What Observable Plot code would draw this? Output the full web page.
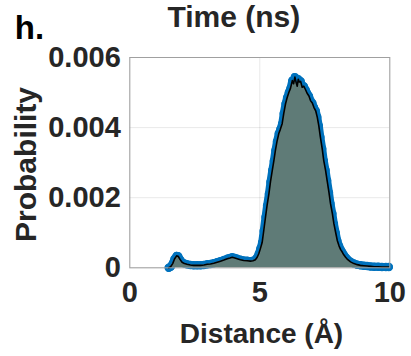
<!DOCTYPE html>
<html>
<head>
<meta charset="utf-8">
<script src="https://cdn.jsdelivr.net/npm/d3@7"></script>
<script src="https://cdn.jsdelivr.net/npm/@observablehq/plot@0.6"></script>
<style>
  html, body { margin: 0; padding: 0; background: #fff; }
  #chart svg { display: block; }
</style>
</head>
<body>
<div id="chart"></div>
<script>
// Distance (Å)
const distance = [
  1.50, 1.57, 1.65, 1.72, 1.80, 1.86, 1.93, 2.01, 2.10, 2.20,
  2.33, 2.46, 2.59, 2.72, 2.85, 2.98, 3.10, 3.23, 3.36, 3.49,
  3.62, 3.75, 3.85, 3.94, 4.04, 4.13, 4.25, 4.38, 4.51, 4.64,
  4.74, 4.83, 4.90, 4.96, 5.02, 5.09, 5.15, 5.22, 5.28, 5.35,
  5.41, 5.48, 5.54, 5.60, 5.66, 5.73, 5.79, 5.86, 5.92, 5.99,
  6.05, 6.12, 6.18, 6.25, 6.30, 6.35, 6.40, 6.44, 6.48, 6.52,
  6.57, 6.63, 6.69, 6.76, 6.82, 6.89, 6.95, 7.02, 7.08, 7.15,
  7.21, 7.27, 7.33, 7.40, 7.46, 7.53, 7.59, 7.66, 7.72, 7.79,
  7.85, 7.92, 7.98, 8.05, 8.11, 8.17, 8.23, 8.30, 8.36, 8.49,
  8.62, 8.75, 8.87, 9.00, 9.13, 9.26, 9.40, 9.55, 9.70, 9.85,
  9.96
];
// Probability
const probability = [
  0.00000, 0.00003, 0.00012, 0.00025, 0.00034, 0.00033, 0.00024, 0.00016, 0.00012, 0.00010,
  0.00008, 0.00007, 0.00007, 0.00007, 0.00008, 0.00010, 0.00011, 0.00013, 0.00016, 0.00019,
  0.00022, 0.00026, 0.00028, 0.00030, 0.00028, 0.00026, 0.00023, 0.00021, 0.00020, 0.00019,
  0.00020, 0.00023, 0.00030, 0.00040, 0.00054, 0.00072, 0.00105, 0.00145, 0.00178, 0.00211,
  0.00245, 0.00278, 0.00305, 0.00335, 0.00360, 0.00383, 0.00395, 0.00411, 0.00440, 0.00468,
  0.00485, 0.00501, 0.00512, 0.00534, 0.00525, 0.00544, 0.00528, 0.00518, 0.00538, 0.00530,
  0.00532, 0.00515, 0.00518, 0.00508, 0.00498, 0.00490, 0.00477, 0.00470, 0.00458, 0.00448,
  0.00430, 0.00405, 0.00373, 0.00340, 0.00306, 0.00278, 0.00249, 0.00215, 0.00183, 0.00155,
  0.00126, 0.00100, 0.00078, 0.00062, 0.00052, 0.00045, 0.00037, 0.00030, 0.00025, 0.00017,
  0.00012, 0.00009, 0.00007, 0.00006, 0.00005, 0.00004, 0.00003, 0.00003, 0.00002, 0.00002,
  0.00002
];
const xTicks = [0, 5, 10];
const yTicks = [0, 0.002, 0.004, 0.006];
const yTickLabels = ["0", "0.002", "0.004", "0.006"];
const panelLabel = "h.";
const topTitle = "Time (ns)";
const xLabel = "Distance (Å)";
const yLabel = "Probability";

const data = distance.map((d, i) => ({distance: d, probability: probability[i]}));

const font = "'Liberation Sans', Arial, Helvetica, sans-serif";

const chart = Plot.plot({
  width: 411,
  height: 356,
  marginLeft: 129.3,
  marginRight: 21.7,
  marginTop: 57,
  marginBottom: 88.7,
  style: {fontFamily: font, fontSize: "29px", fontWeight: "bold", color: "#262626", background: "#fff", overflow: "visible"},
  x: {domain: [0, 10], ticks: xTicks, tickFormat: d3.format("d"), tickSize: 0, tickPadding: 14, label: null, grid: true},
  y: {domain: [0, 0.006], ticks: yTicks, tickFormat: (d) => yTickLabels[yTicks.indexOf(d)], tickSize: 0, tickPadding: 9, label: null, grid: true},
  marks: [
    Plot.lineY(data, {x: "distance", y: "probability", stroke: "#0072BD", strokeWidth: 8, strokeLinejoin: "round", strokeLinecap: "round"}),
    Plot.dot(data, {x: "distance", y: "probability", r: 3.5, stroke: "#0072BD", fill: "#0072BD"}),
    Plot.areaY(data, {x: "distance", y: "probability", fill: "#5f7b77"}),
    Plot.lineY(data, {x: "distance", y: "probability", stroke: "#000", strokeWidth: 1.6}),
    Plot.frame({stroke: "#a0a0a0", strokeWidth: 1}),
    Plot.text([topTitle], {text: d => d, frameAnchor: "top", textAnchor: "middle", lineAnchor: "middle", dx: -26, dy: -40, fontSize: 30, fill: "#262626"}),
    Plot.text([panelLabel], {text: d => d, frameAnchor: "top-left", textAnchor: "start", lineAnchor: "middle", dx: -115, dy: -29, fontSize: 33, fill: "#000"}),
    Plot.text([yLabel], {text: d => d, frameAnchor: "left", textAnchor: "middle", lineAnchor: "middle", rotate: -90, dx: -103.3, dy: 1.8, fontSize: 30, fill: "#262626"}),
    Plot.text([xLabel], {text: d => d, frameAnchor: "bottom", textAnchor: "middle", lineAnchor: "middle", dy: 66.7, dx: 1.7, fontSize: 28, fill: "#262626"})
  ]
});
document.getElementById("chart").appendChild(chart);
</script>
</body>
</html>
